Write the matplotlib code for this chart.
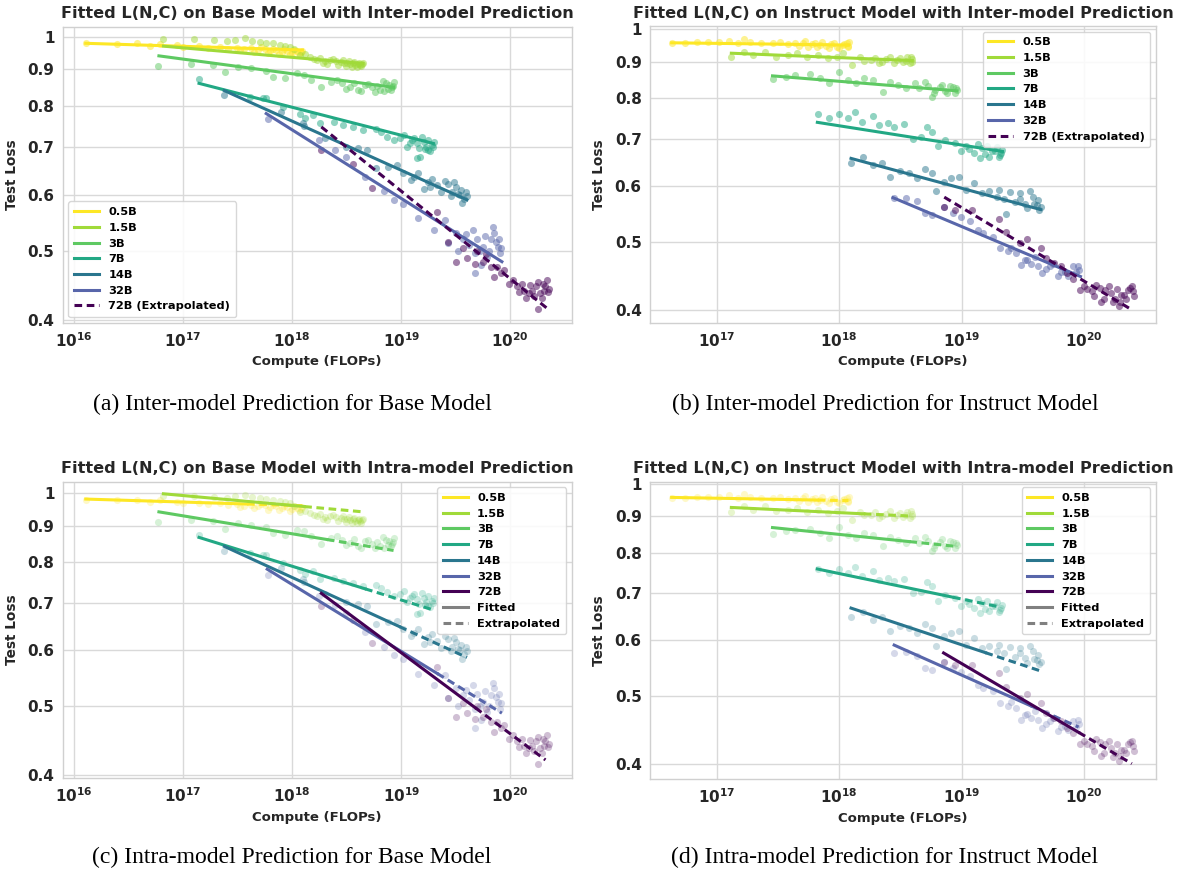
import numpy as np
import matplotlib
matplotlib.use('Agg')
import matplotlib.pyplot as plt
from matplotlib.lines import Line2D
from matplotlib.ticker import FixedLocator, NullLocator, FixedFormatter

plt.rcParams['font.family'] = ['DejaVu Sans']
plt.rcParams['font.weight'] = 'bold'
plt.rcParams['mathtext.default'] = 'bf'

models = ['0.5B', '1.5B', '3B', '7B', '14B', '32B', '72B']
colors = ['#fde725', '#a0da39', '#5ec962', '#22a884', '#2a768e', '#5866aa', '#440154']

# ---- base model checkpoints: compute (FLOPs) and test loss ----
base_c_05 = [1.3e16, 2.5e16, 3.8e16, 5.0e16, 6.2e16, 8.7e16, 1.0e17, 1.4e17, 1.7e17, 2.2e17, 2.6e17, 3.1e17,
             3.6e17, 4.2e17, 4.9e17, 5.6e17, 6.3e17, 7.1e17, 8.0e17, 9.0e17, 1.0e18, 1.1e18, 1.2e18,
             3.3e17, 4.5e17, 5.2e17, 6.0e17, 6.7e17, 7.5e17, 8.5e17, 9.5e17, 1.05e18, 1.15e18, 1.22e18]
base_l_05 = [0.979, 0.977, 0.979, 0.971, 0.977, 0.973, 0.968, 0.970, 0.965, 0.968, 0.962, 0.965,
             0.960, 0.963, 0.958, 0.961, 0.955, 0.958, 0.952, 0.956, 0.950, 0.954, 0.951,
             0.957, 0.952, 0.966, 0.948, 0.962, 0.946, 0.960, 0.945, 0.958, 0.947, 0.955]
base_c_15 = [6.5e16, 1.27e17, 1.9e17, 2.5e17, 3.0e17, 3.7e17, 4.25e17, 5.1e17, 5.8e17, 6.7e17, 7.7e17, 8.6e17,
             9.5e17, 1.05e18, 1.18e18, 1.3e18, 1.45e18, 1.6e18, 1.8e18, 2.0e18, 2.2e18, 2.5e18, 2.8e18, 3.0e18,
             3.2e18, 3.4e18, 3.6e18, 3.8e18, 4.0e18, 4.2e18, 4.4e18,
             1.7e18, 1.9e18, 2.1e18, 2.35e18, 2.65e18, 2.9e18, 3.1e18, 3.3e18, 3.5e18, 3.7e18, 3.9e18,
             4.1e18, 4.3e18, 4.45e18]
base_l_15 = [0.992, 0.992, 0.989, 0.985, 0.990, 0.995, 0.987, 0.984, 0.981, 0.979, 0.974, 0.972,
             0.968, 0.960, 0.942, 0.945, 0.937, 0.932, 0.935, 0.925, 0.927, 0.925, 0.922, 0.918,
             0.919, 0.915, 0.918, 0.913, 0.916, 0.912, 0.915,
             0.928, 0.920, 0.915, 0.930, 0.912, 0.927, 0.910, 0.925, 0.908, 0.922, 0.907,
             0.920, 0.909, 0.918]
base_c_3 = [5.9e16, 1.18e17, 1.88e17, 2.4e17, 3.2e17, 4.2e17, 5.7e17, 6.7e17, 8.6e17, 1.1e18, 1.29e18, 1.5e18,
            1.85e18, 2.25e18, 2.88e18, 3.4e18, 4.0e18, 4.65e18, 5.45e18, 6.4e18, 7.2e18, 7.6e18, 8.2e18, 8.5e18,
            2.6e18, 3.1e18, 3.7e18, 4.3e18, 5.0e18, 5.8e18, 6.0e18, 6.8e18, 7.0e18, 7.8e18, 8.0e18, 8.4e18]
base_l_3 = [0.911, 0.916, 0.912, 0.891, 0.908, 0.903, 0.895, 0.879, 0.874, 0.888, 0.884, 0.869,
            0.849, 0.865, 0.860, 0.851, 0.841, 0.855, 0.849, 0.841, 0.860, 0.845, 0.849, 0.864,
            0.870, 0.845, 0.862, 0.838, 0.858, 0.836, 0.852, 0.866, 0.838, 0.855, 0.842, 0.852]
base_c_7 = [1.4e17, 4.1e17, 5.4e17, 5.7e17, 8.3e17, 1.17e18, 1.3e18, 1.56e18, 1.8e18, 2.4e18, 2.95e18, 3.6e18,
            4.5e18, 5.9e18, 7.35e18, 9.8e18, 1.13e19, 1.25e19, 1.39e19, 1.39e19, 1.48e19, 1.6e19, 1.7e19,
            1.77e19, 1.9e19,
            6.5e18, 8.5e18, 1.05e19, 1.2e19, 1.3e19, 1.45e19, 1.55e19, 1.65e19, 1.75e19, 1.85e19, 1.95e19, 2.0e19]
base_l_7 = [0.872, 0.824, 0.819, 0.819, 0.797, 0.780, 0.770, 0.776, 0.756, 0.760, 0.751, 0.747,
            0.740, 0.743, 0.724, 0.720, 0.701, 0.716, 0.708, 0.675, 0.678, 0.712, 0.701, 0.693, 0.705,
            0.735, 0.715, 0.728, 0.710, 0.720, 0.698, 0.722, 0.695, 0.715, 0.690, 0.700, 0.712]
base_c_14 = [2.35e17, 7.9e17, 1.26e18, 1.29e18, 2.0e18, 3.1e18, 4.0e18, 4.9e18, 5.9e18, 7.6e18, 9.2e18, 1.04e19,
             1.22e19, 1.43e19, 1.75e19, 1.82e19, 2.14e19, 2.7e19, 2.95e19, 3.17e19, 3.45e19, 3.6e19, 3.9e19,
             1.3e19, 1.6e19, 1.9e19, 2.3e19, 2.5e19, 2.85e19, 3.05e19, 3.3e19, 3.5e19, 3.75e19, 4.0e19]
base_l_14 = [0.828, 0.785, 0.756, 0.749, 0.720, 0.701, 0.697, 0.693, 0.653, 0.657, 0.660, 0.643,
             0.629, 0.643, 0.626, 0.616, 0.619, 0.622, 0.606, 0.616, 0.600, 0.584, 0.606,
             0.635, 0.612, 0.632, 0.605, 0.628, 0.598, 0.625, 0.602, 0.610, 0.592, 0.598]
base_c_32 = [6.0e17, 1.78e18, 2.45e18, 3.1e18, 4.65e18, 6.9e18, 8.5e18, 1.04e19, 1.43e19, 1.98e19, 2.5e19,
             2.7e19, 3.17e19, 3.7e19, 4.53e19, 4.7e19, 4.7e19, 5.6e19, 6.1e19, 6.6e19, 7.1e19, 7.7e19, 8.0e19,
             3.3e19, 3.9e19, 4.2e19, 5.0e19, 5.3e19, 5.9e19, 6.4e19, 6.9e19, 7.4e19, 7.9e19, 8.2e19, 5.4e19]
base_l_32 = [0.766, 0.716, 0.694, 0.677, 0.636, 0.607, 0.590, 0.583, 0.556, 0.535, 0.553,
             0.513, 0.530, 0.519, 0.535, 0.466, 0.496, 0.507, 0.491, 0.519, 0.530, 0.507, 0.496,
             0.500, 0.528, 0.510, 0.520, 0.500, 0.525, 0.500, 0.540, 0.515, 0.520, 0.505, 0.478]
base_c_72 = [1.85e18, 3.63e18, 5.45e18, 2.14e19, 2.7e19, 3.2e19, 3.7e19, 4.0e19, 4.7e19, 5.6e19, 6.6e19, 7.1e19,
             8.3e19, 9.7e19, 1.14e20, 1.34e20, 1.47e20, 1.59e20, 1.73e20, 1.78e20, 1.87e20, 2.0e20, 2.1e20, 2.2e20,
             1.05e20, 1.2e20, 1.28e20, 1.4e20, 1.52e20, 1.65e20, 1.8e20, 1.95e20, 2.05e20, 2.15e20, 2.25e20,
             8.8e19, 7.6e19, 6.0e19, 5.0e19]
base_l_72 = [0.693, 0.663, 0.614, 0.568, 0.514, 0.483, 0.505, 0.489, 0.480, 0.483, 0.475, 0.460,
             0.466, 0.450, 0.446, 0.440, 0.436, 0.440, 0.446, 0.414, 0.436, 0.450, 0.446, 0.438,
             0.455, 0.438, 0.450, 0.430, 0.448, 0.432, 0.452, 0.430, 0.440, 0.455, 0.442,
             0.470, 0.475, 0.495, 0.500]

# ---- instruct model checkpoints ----
inst_c_05 = [4.3e16, 5.5e16, 6.9e16, 8.5e16, 1.05e17, 1.26e17, 1.5e17, 1.67e17, 1.86e17, 2.31e17, 2.86e17, 3.3e17,
             3.8e17, 4.39e17, 5.06e17, 5.6e17, 6.3e17, 6.98e17, 7.77e17, 8.65e17, 9.6e17, 1.07e18, 1.15e18, 1.19e18,
             4.7e17, 5.3e17, 6.0e17, 6.6e17, 7.3e17, 8.2e17, 9.1e17, 1.0e18, 1.1e18, 1.17e18, 1.2e18]
inst_l_05 = [0.957, 0.957, 0.958, 0.959, 0.960, 0.964, 0.955, 0.968, 0.960, 0.957, 0.955, 0.960,
             0.953, 0.955, 0.957, 0.945, 0.955, 0.950, 0.947, 0.953, 0.945, 0.950, 0.955, 0.943,
             0.948, 0.962, 0.952, 0.944, 0.958, 0.942, 0.956, 0.941, 0.952, 0.948, 0.958]
inst_c_15 = [1.32e17, 1.67e17, 2.0e17, 2.48e17, 3.07e17, 3.8e17, 4.55e17, 5.44e17, 6.73e17, 8.05e17, 9.6e17,
             1.07e18, 1.28e18, 1.48e18, 1.83e18, 2.11e18, 2.43e18, 2.81e18, 3.13e18, 3.48e18, 3.87e18, 3.95e18,
             1.6e18, 1.95e18, 2.25e18, 2.6e18, 2.95e18, 3.3e18, 3.6e18, 3.75e18, 3.9e18]
inst_l_15 = [0.913, 0.930, 0.920, 0.930, 0.915, 0.920, 0.925, 0.913, 0.920, 0.910, 0.915,
             0.925, 0.890, 0.913, 0.905, 0.895, 0.907, 0.897, 0.910, 0.903, 0.915, 0.900,
             0.903, 0.912, 0.900, 0.915, 0.905, 0.898, 0.913, 0.896, 0.908]
inst_c_3 = [2.86e17, 3.67e17, 4.39e17, 5.83e17, 6.98e17, 8.22e17, 9.97e17, 1.19e18, 1.37e18, 1.59e18, 1.9e18,
            2.27e18, 2.61e18, 3.02e18, 3.48e18, 4.16e18, 4.97e18, 5.74e18, 6.62e18, 7.64e18, 8.5e18, 9.12e18,
            4.5e18, 5.3e18, 6.1e18, 6.9e18, 7.3e18, 8.0e18, 8.8e18, 9.0e18, 5.9e18]
inst_l_3 = [0.851, 0.857, 0.862, 0.864, 0.852, 0.840, 0.871, 0.847, 0.838, 0.852, 0.847,
            0.816, 0.843, 0.834, 0.825, 0.838, 0.843, 0.803, 0.829, 0.811, 0.827, 0.820,
            0.825, 0.832, 0.820, 0.835, 0.818, 0.830, 0.812, 0.826, 0.812]
inst_c_7 = [6.73e17, 8.34e17, 9.97e17, 1.19e18, 1.35e18, 1.53e18, 1.9e18, 2.11e18, 2.52e18, 2.81e18, 3.36e18,
            4.02e18, 4.64e18, 5.16e18, 5.74e18, 6.38e18, 7.36e18, 8.81e18, 9.8e18, 1.09e19, 1.26e19, 1.45e19,
            1.68e19, 1.86e19, 2.07e19, 2.15e19,
            1.15e19, 1.35e19, 1.55e19, 1.6e19, 1.75e19, 1.95e19, 2.0e19, 2.1e19, 1.4e19]
inst_l_7 = [0.758, 0.748, 0.758, 0.748, 0.764, 0.740, 0.754, 0.732, 0.736, 0.728, 0.734,
            0.700, 0.704, 0.726, 0.716, 0.682, 0.697, 0.689, 0.671, 0.682, 0.667, 0.678,
            0.660, 0.671, 0.663, 0.674,
            0.676, 0.688, 0.665, 0.682, 0.672, 0.680, 0.658, 0.668, 0.657]
inst_c_14 = [1.25e18, 1.56e18, 1.9e18, 2.23e18, 2.61e18, 3.13e18, 3.74e18, 4.31e18, 4.97e18, 5.74e18, 6.17e18,
             7.11e18, 8.2e18, 9.46e18, 1.09e19, 1.26e19, 1.45e19, 1.68e19, 1.93e19, 2.31e19, 2.48e19, 2.97e19,
             3.42e19, 3.81e19, 4.09e19, 4.4e19,
             2.2e19, 2.7e19, 3.0e19, 3.3e19, 3.6e19, 3.9e19, 4.2e19, 4.3e19, 2.0e19]
inst_l_14 = [0.647, 0.658, 0.642, 0.647, 0.618, 0.630, 0.625, 0.615, 0.633, 0.625, 0.589,
             0.608, 0.615, 0.618, 0.592, 0.605, 0.585, 0.589, 0.579, 0.547, 0.587, 0.585,
             0.557, 0.579, 0.563, 0.560,
             0.575, 0.569, 0.575, 0.566, 0.590, 0.565, 0.572, 0.555, 0.592]
inst_c_32 = [2.81e18, 3.48e18, 4.31e18, 4.97e18, 5.74e18, 7.11e18, 8.5e18, 9.8e18, 1.17e19, 1.35e19, 1.5e19,
             1.8e19, 2.07e19, 2.39e19, 2.76e19, 3.07e19, 3.42e19, 3.95e19, 4.55e19, 5.25e19, 6.06e19, 6.99e19,
             8.06e19, 8.97e19,
             3.3e19, 3.7e19, 4.2e19, 4.9e19, 5.6e19, 6.4e19, 7.3e19, 8.5e19, 8.8e19, 2.5e19]
inst_l_32 = [0.576, 0.577, 0.570, 0.548, 0.545, 0.560, 0.548, 0.542, 0.534, 0.519, 0.514,
             0.508, 0.489, 0.484, 0.481, 0.463, 0.471, 0.476, 0.451, 0.461, 0.446, 0.453,
             0.461, 0.456,
             0.470, 0.465, 0.462, 0.457, 0.465, 0.452, 0.447, 0.452, 0.462, 0.490]
inst_c_72 = [7.11e18, 8.81e18, 1.21e19, 2.0e19, 2.31e19, 2.97e19, 3.42e19, 4.4e19, 4.89e19, 5.64e19, 6.5e19,
             7.24e19, 8.06e19, 9.3e19, 9.98e19, 1.15e20, 1.24e20, 1.38e20, 1.48e20, 1.65e20, 1.77e20, 1.97e20,
             2.11e20, 2.27e20, 2.44e20, 2.53e20,
             1.05e20, 1.2e20, 1.33e20, 1.45e20, 1.6e20, 1.72e20, 1.85e20, 2.0e20, 2.2e20, 2.35e20, 2.5e20, 1.9e20]
inst_l_72 = [0.560, 0.554, 0.554, 0.539, 0.516, 0.497, 0.504, 0.489, 0.474, 0.466, 0.461,
             0.451, 0.443, 0.427, 0.432, 0.425, 0.434, 0.411, 0.427, 0.422, 0.415, 0.411,
             0.420, 0.427, 0.432, 0.418,
             0.428, 0.418, 0.430, 0.415, 0.432, 0.410, 0.428, 0.420, 0.415, 0.430, 0.425, 0.405]

# ---- fitted L(N,C) lines: start compute, start loss, end compute, end loss ----
inter_base_c0 = [1.28e16, 6.6e16, 6.0e16, 1.40e17, 2.39e17, 5.78e17, 1.85e18]
inter_base_l0 = [0.979, 0.970, 0.940, 0.860, 0.840, 0.780, 0.747]
inter_base_c1 = [1.24e18, 4.47e18, 8.5e18, 1.97e19, 4.0e19, 8.37e19, 2.19e20]
inter_base_l1 = [0.958, 0.917, 0.849, 0.708, 0.590, 0.483, 0.415]

inter_inst_c0 = [4.3e16, 1.32e17, 2.86e17, 6.64e17, 1.25e18, 2.75e18, 7.2e18]
inter_inst_l0 = [0.957, 0.925, 0.859, 0.738, 0.656, 0.577, 0.578]
inter_inst_c1 = [1.19e18, 3.95e18, 9.12e18, 2.15e19, 4.4e19, 9.3e19, 2.44e20]
inter_inst_l1 = [0.950, 0.903, 0.818, 0.671, 0.555, 0.446, 0.400]

# intra-model: fitted up to the split compute, extrapolated beyond it
intra_base_c0 = [1.28e16, 6.6e16, 6.0e16, 1.4e17, 2.39e17, 5.9e17, 1.85e18]
intra_base_l0 = [0.981, 0.998, 0.941, 0.866, 0.841, 0.781, 0.722]
intra_base_c1 = [1.24e18, 4.47e18, 8.5e18, 1.97e19, 4.0e19, 8.37e19, 2.1e20]
intra_base_l1 = [0.960, 0.941, 0.830, 0.684, 0.586, 0.489, 0.420]
intra_base_split = [3.86e17, 1.29e18, 2.08e18, 4.66e18, 9.6e18, 2.14e19, 4.78e19]

intra_inst_c0 = [4.3e16, 1.32e17, 2.86e17, 6.64e17, 1.25e18, 2.81e18, 7.11e18]
intra_inst_l0 = [0.958, 0.927, 0.868, 0.758, 0.667, 0.591, 0.576]
intra_inst_c1 = [1.19e18, 3.95e18, 9.12e18, 2.0e19, 4.4e19, 8.97e19, 2.44e20]
intra_inst_l1 = [0.948, 0.901, 0.816, 0.670, 0.543, 0.452, 0.401]
intra_inst_split = [6.7e17, 1.59e18, 3.74e18, 8.5e18, 1.56e19, 3.67e19, 8.97e19]

base_c = [base_c_05, base_c_15, base_c_3, base_c_7, base_c_14, base_c_32, base_c_72]
base_l = [base_l_05, base_l_15, base_l_3, base_l_7, base_l_14, base_l_32, base_l_72]
inst_c = [inst_c_05, inst_c_15, inst_c_3, inst_c_7, inst_c_14, inst_c_32, inst_c_72]
inst_l = [inst_l_05, inst_l_15, inst_l_3, inst_l_7, inst_l_14, inst_l_32, inst_l_72]

W, H = 1182, 875
fig = plt.figure(figsize=(W / 100, H / 100), dpi=100)


def px_axes(left, top, right, bottom):
    return fig.add_axes([left / W, 1 - bottom / H, (right - left) / W, (bottom - top) / H])


def loss_at(c0, l0, c1, l1, c):
    t = (np.log10(c) - np.log10(c0)) / (np.log10(c1) - np.log10(c0))
    return 10 ** (np.log10(l0) + t * (np.log10(l1) - np.log10(l0)))


def style_axes(ax, title, xlim, ylim):
    ax.set_xscale('log')
    ax.set_yscale('log')
    ax.set_xlim(*xlim)
    ax.set_ylim(*ylim)
    ax.set_facecolor('white')
    ax.grid(True, color='#d9d9d9', linewidth=1.0)
    ax.set_axisbelow(True)
    for s in ax.spines.values():
        s.set_color('#d0d0d0')
        s.set_linewidth(1.0)
    yt = [0.4, 0.5, 0.6, 0.7, 0.8, 0.9, 1.0]
    ax.yaxis.set_major_locator(FixedLocator(yt))
    ax.yaxis.set_major_formatter(FixedFormatter(['0.4', '0.5', '0.6', '0.7', '0.8', '0.9', '1']))
    ax.yaxis.set_minor_locator(NullLocator())
    xt = [1e16, 1e17, 1e18, 1e19, 1e20]
    ax.xaxis.set_major_locator(FixedLocator(xt))
    ax.xaxis.set_major_formatter(FixedFormatter([r'$\mathbf{10^{16}}$', r'$\mathbf{10^{17}}$',
                                                 r'$\mathbf{10^{18}}$', r'$\mathbf{10^{19}}$',
                                                 r'$\mathbf{10^{20}}$']))
    ax.xaxis.set_minor_locator(NullLocator())
    ax.tick_params(length=0, labelsize=11, pad=6, labelcolor='#262626')
    for lab in ax.get_yticklabels():
        lab.set_fontweight('bold')
    ax.set_title(title, fontsize=11.6, fontweight='bold', color='#262626', pad=6)
    ax.set_xlabel('Compute (FLOPs)', fontsize=9.5, fontweight='bold', color='#262626', labelpad=4)
    ax.set_ylabel('Test Loss', fontsize=9.8, fontweight='bold', color='#262626', labelpad=6)


def draw_points(ax, cs, ls, alpha):
    for i in range(len(models)):
        ax.scatter(cs[i], ls[i], s=26, color=colors[i], alpha=alpha, linewidths=0, zorder=2)


def inter_panel(ax, cs, ls, c0, l0, c1, l1, loc):
    draw_points(ax, cs, ls, 0.5)
    handles = []
    for i in range(len(models)):
        if i < len(models) - 1:
            h, = ax.plot([c0[i], c1[i]], [l0[i], l1[i]], color=colors[i], lw=2.2, zorder=3,
                         label=models[i])
        else:
            h, = ax.plot([c0[i], c1[i]], [l0[i], l1[i]], color=colors[i], lw=2.2, zorder=3,
                         ls=(0, (2.5, 1.5)), label=models[i] + ' (Extrapolated)')
        handles.append(h)
    ax.legend(handles=handles, loc=loc, fontsize=8.2, frameon=True, framealpha=0.85,
              edgecolor='#d0d0d0', handlelength=2.2, borderpad=0.5, labelspacing=0.5)


def intra_panel(ax, cs, ls, c0, l0, c1, l1, split):
    draw_points(ax, cs, ls, 0.25)
    handles = []
    for i in range(len(models)):
        ls_split = loss_at(c0[i], l0[i], c1[i], l1[i], split[i])
        h, = ax.plot([c0[i], split[i]], [l0[i], ls_split], color=colors[i], lw=2.2, zorder=3,
                     label=models[i])
        ax.plot([split[i], c1[i]], [ls_split, l1[i]], color=colors[i], lw=2.2, zorder=3,
                ls=(0, (2.5, 1.5)))
        handles.append(h)
    handles.append(Line2D([], [], color='gray', lw=2.2, label='Fitted'))
    handles.append(Line2D([], [], color='gray', lw=2.2, ls=(0, (2.5, 1.5)), label='Extrapolated'))
    ax.legend(handles=handles, loc='upper right', fontsize=8.2, frameon=True, framealpha=0.85,
              edgecolor='#d0d0d0', handlelength=2.2, borderpad=0.5, labelspacing=0.5)


ax_a = px_axes(62.7, 26.7, 571.5, 322.7)
style_axes(ax_a, 'Fitted L(N,C) on Base Model with Inter-model Prediction', (10 ** 15.896, 10 ** 20.561), (0.3965, 1.033))
inter_panel(ax_a, base_c, base_l, inter_base_c0, inter_base_l0, inter_base_c1, inter_base_l1, 'lower left')

ax_b = px_axes(650, 26, 1155.8, 322.7)
style_axes(ax_b, 'Fitted L(N,C) on Instruct Model with Inter-model Prediction', (10 ** 16.457, 10 ** 20.583), (0.3835, 1.011))
inter_panel(ax_b, inst_c, inst_l, inter_inst_c0, inter_inst_l0, inter_inst_c1, inter_inst_l1, 'upper right')

ax_c = px_axes(62.7, 481.7, 571.5, 778)
style_axes(ax_c, 'Fitted L(N,C) on Base Model with Intra-model Prediction', (10 ** 15.896, 10 ** 20.561), (0.396, 1.038))
intra_panel(ax_c, base_c, base_l, intra_base_c0, intra_base_l0, intra_base_c1, intra_base_l1, intra_base_split)

ax_d = px_axes(650, 481.7, 1155.8, 779.3)
style_axes(ax_d, 'Fitted L(N,C) on Instruct Model with Intra-model Prediction', (10 ** 16.457, 10 ** 20.583), (0.381, 1.0085))
intra_panel(ax_d, inst_c, inst_l, intra_inst_c0, intra_inst_l0, intra_inst_c1, intra_inst_l1, intra_inst_split)

captions = ['(a) Inter-model Prediction for Base Model', '(b) Inter-model Prediction for Instruct Model',
            '(c) Intra-model Prediction for Base Model', '(d) Intra-model Prediction for Instruct Model']
cap_pos = [(292, 404), (885, 404), (292, 857), (885, 857)]
for txt, (x, y) in zip(captions, cap_pos):
    fig.text(x / W, 1 - y / H, txt, ha='center', va='center', fontsize=17,
             family='Liberation Serif', fontweight='normal', color='black')

fig.savefig('out.png', dpi=100, facecolor='white')
